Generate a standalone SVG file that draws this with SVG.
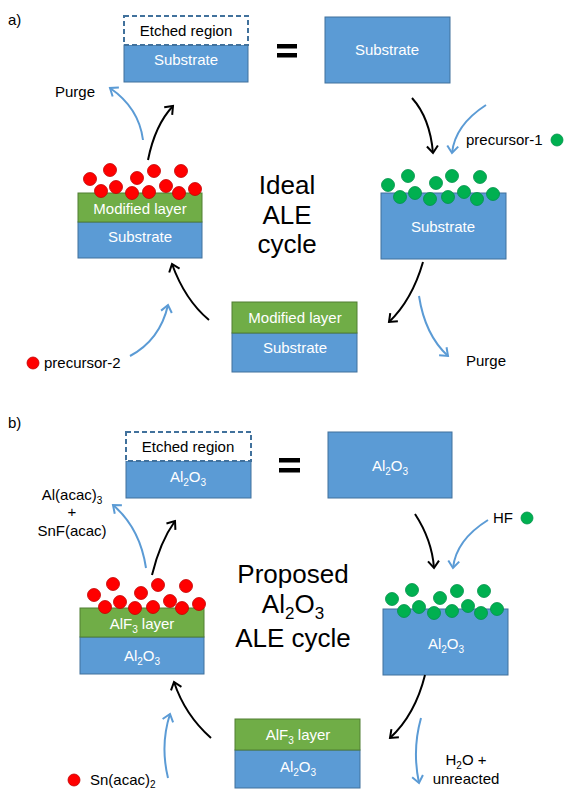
<svg xmlns="http://www.w3.org/2000/svg" width="564" height="789" viewBox="0 0 564 789">
<defs>
<marker id="ab" markerUnits="userSpaceOnUse" markerWidth="14" markerHeight="14" refX="9" refY="7" orient="auto">
<path d="M2,1.5 L9,7 L2,12.5" fill="none" stroke="#000" stroke-width="2"/>
</marker>
<marker id="au" markerUnits="userSpaceOnUse" markerWidth="14" markerHeight="14" refX="9" refY="7" orient="auto">
<path d="M2,1.5 L9,7 L2,12.5" fill="none" stroke="#5B9BD5" stroke-width="2"/>
</marker>
</defs>
<style>
text{font-family:"Liberation Sans",Arial,sans-serif;}
.lbl{font-size:15px;fill:#000;}
.wt{font-size:15px;fill:#fff;text-anchor:middle;}
.bk{font-size:15px;fill:#000;text-anchor:middle;}
.big{font-size:26px;fill:#000;text-anchor:middle;}
.sub{font-size:10px;}
.bsub{font-size:17px;}
.blue{fill:#5B9BD5;stroke:#41719C;stroke-width:1;}
.green{fill:#70AD47;stroke:#507E32;stroke-width:1;}
.etch{fill:#fff;stroke:#41719C;stroke-width:2;stroke-dasharray:5,3;}
.rd{fill:#FF0000;stroke:#C00000;stroke-width:0.8;}
.gd{fill:#00B050;stroke:#00904A;stroke-width:0.8;}
.eq{fill:#000;}
.cb{fill:none;stroke:#000;stroke-width:2;marker-end:url(#ab);}
.cu{fill:none;stroke:#5B9BD5;stroke-width:2;marker-end:url(#au);}
</style>
<rect width="564" height="789" fill="#fff"/>

<!-- Panel a -->
<text x="8" y="25" class="lbl" font-size="16">a)</text>
<g id="a-etched">
<rect x="124" y="45" width="124" height="37" class="blue"/>
<rect x="124" y="16" width="124" height="29" class="etch"/>
<text x="186" y="36" class="bk">Etched region</text>
<text x="186" y="65" class="wt">Substrate</text>
</g>
<g id="a-eq"><rect x="277" y="44" width="20" height="4.5" class="eq"/><rect x="277" y="53" width="20" height="4.5" class="eq"/></g>
<g id="a-substrate">
<rect x="325" y="17" width="125" height="66" class="blue"/>
<text x="387" y="55" class="wt">Substrate</text>
</g>
<g id="a-left">
<rect x="78" y="222" width="124" height="36" class="blue"/>
<rect x="78" y="193" width="124" height="29" class="green"/>
<text x="140" y="214" class="wt">Modified layer</text>
<text x="140" y="242" class="wt">Substrate</text>
<circle cx="90" cy="179" r="6.5" class="rd"/><circle cx="110" cy="170" r="6.5" class="rd"/>
<circle cx="101" cy="191" r="6.5" class="rd"/><circle cx="116" cy="187" r="6.5" class="rd"/>
<circle cx="137" cy="178" r="6.5" class="rd"/><circle cx="132" cy="193" r="6.5" class="rd"/>
<circle cx="154" cy="171" r="6.5" class="rd"/><circle cx="149" cy="192" r="6.5" class="rd"/>
<circle cx="166" cy="186" r="6.5" class="rd"/><circle cx="181" cy="171" r="6.5" class="rd"/>
<circle cx="179" cy="193" r="6.5" class="rd"/><circle cx="195" cy="189" r="6.5" class="rd"/>
</g>
<g id="a-title">
<text x="287" y="194" class="big">Ideal</text>
<text x="287" y="224" class="big">ALE</text>
<text x="287" y="253" class="big">cycle</text>
</g>
<g id="a-right">
<rect x="381" y="193" width="125" height="66" class="blue"/>
<text x="443" y="232" class="wt">Substrate</text>
<circle cx="388" cy="185" r="6.5" class="gd"/><circle cx="408" cy="176" r="6.5" class="gd"/>
<circle cx="400" cy="197" r="6.5" class="gd"/><circle cx="415" cy="193" r="6.5" class="gd"/>
<circle cx="436" cy="183" r="6.5" class="gd"/><circle cx="430" cy="199" r="6.5" class="gd"/>
<circle cx="452" cy="176" r="6.5" class="gd"/><circle cx="448" cy="197" r="6.5" class="gd"/>
<circle cx="464" cy="192" r="6.5" class="gd"/><circle cx="480" cy="177" r="6.5" class="gd"/>
<circle cx="477" cy="199" r="6.5" class="gd"/><circle cx="493" cy="194" r="6.5" class="gd"/>
</g>
<g id="a-bottom">
<rect x="232" y="333" width="125" height="39" class="blue"/>
<rect x="232" y="302" width="125" height="31" class="green"/>
<text x="295" y="323" class="wt">Modified layer</text>
<text x="295" y="353" class="wt">Substrate</text>
</g>
<g id="a-labels">
<text x="55" y="97" class="lbl">Purge</text>
<text x="466" y="145" class="lbl">precursor-1</text>
<circle cx="557" cy="140" r="6" class="gd"/>
<circle cx="33" cy="363" r="6" class="rd"/>
<text x="44" y="368" class="lbl">precursor-2</text>
<text x="466" y="366" class="lbl">Purge</text>
</g>

<!-- Panel b -->
<text x="8" y="428" class="lbl" font-size="16">b)</text>
<g id="b-etched">
<rect x="126" y="461" width="125" height="37" class="blue"/>
<rect x="126" y="432" width="125" height="29" class="etch"/>
<text x="188" y="452" class="bk">Etched region</text>
<text x="188" y="482" class="wt">Al<tspan class="sub" dy="4">2</tspan><tspan dy="-4">O</tspan><tspan class="sub" dy="4">3</tspan></text>
</g>
<g id="b-eq"><rect x="279" y="458" width="21" height="4.5" class="eq"/><rect x="279" y="468" width="21" height="4.5" class="eq"/></g>
<g id="b-al2o3">
<rect x="328" y="432" width="124" height="66" class="blue"/>
<text x="390" y="471" class="wt">Al<tspan class="sub" dy="4">2</tspan><tspan dy="-4">O</tspan><tspan class="sub" dy="4">3</tspan></text>
</g>
<g id="b-left">
<rect x="80" y="637" width="124" height="37" class="blue"/>
<rect x="80" y="608" width="124" height="29" class="green"/>
<text x="142" y="629" class="wt">AlF<tspan class="sub" dy="4">3</tspan><tspan dy="-4"> layer</tspan></text>
<text x="142" y="661" class="wt">Al<tspan class="sub" dy="4">2</tspan><tspan dy="-4">O</tspan><tspan class="sub" dy="4">3</tspan></text>
<circle cx="94" cy="595" r="6.5" class="rd"/><circle cx="113" cy="584" r="6.5" class="rd"/>
<circle cx="105" cy="607" r="6.5" class="rd"/><circle cx="120" cy="602" r="6.5" class="rd"/>
<circle cx="141" cy="593" r="6.5" class="rd"/><circle cx="135" cy="608" r="6.5" class="rd"/>
<circle cx="158" cy="585" r="6.5" class="rd"/><circle cx="153" cy="607" r="6.5" class="rd"/>
<circle cx="170" cy="601" r="6.5" class="rd"/><circle cx="186" cy="586" r="6.5" class="rd"/>
<circle cx="182" cy="608" r="6.5" class="rd"/><circle cx="199" cy="604" r="6.5" class="rd"/>
</g>
<g id="b-title">
<text x="293" y="583" class="big">Proposed</text>
<text x="293" y="613" class="big">Al<tspan class="bsub" dy="6">2</tspan><tspan dy="-6">O</tspan><tspan class="bsub" dy="6">3</tspan></text>
<text x="293" y="647" class="big">ALE cycle</text>
</g>
<g id="b-right">
<rect x="383" y="609" width="125" height="66" class="blue"/>
<text x="446" y="649" class="wt">Al<tspan class="sub" dy="4">2</tspan><tspan dy="-4">O</tspan><tspan class="sub" dy="4">3</tspan></text>
<circle cx="392" cy="599" r="6.5" class="gd"/><circle cx="412" cy="590" r="6.5" class="gd"/>
<circle cx="404" cy="611" r="6.5" class="gd"/><circle cx="419" cy="607" r="6.5" class="gd"/>
<circle cx="440" cy="598" r="6.5" class="gd"/><circle cx="434" cy="613" r="6.5" class="gd"/>
<circle cx="457" cy="591" r="6.5" class="gd"/><circle cx="452" cy="611" r="6.5" class="gd"/>
<circle cx="468" cy="606" r="6.5" class="gd"/><circle cx="484" cy="591" r="6.5" class="gd"/>
<circle cx="481" cy="613" r="6.5" class="gd"/><circle cx="497" cy="609" r="6.5" class="gd"/>
</g>
<g id="b-bottom">
<rect x="235" y="750" width="125" height="38" class="blue"/>
<rect x="235" y="719" width="125" height="31" class="green"/>
<text x="298" y="740" class="wt">AlF<tspan class="sub" dy="4">3</tspan><tspan dy="-4"> layer</tspan></text>
<text x="298" y="772" class="wt">Al<tspan class="sub" dy="4">2</tspan><tspan dy="-4">O</tspan><tspan class="sub" dy="4">3</tspan></text>
</g>
<g id="b-labels">
<text x="72" y="500" class="bk">Al(acac)<tspan class="sub" dy="4">3</tspan></text>
<text x="72" y="517" class="bk">+</text>
<text x="72" y="536" class="bk">SnF(acac)</text>
<text x="493" y="523" class="lbl">HF</text>
<circle cx="527" cy="518" r="6" class="gd"/>
<circle cx="74" cy="780" r="6" class="rd"/>
<text x="90" y="785" class="lbl">Sn(acac)<tspan class="sub" dy="3">2</tspan></text>
<text x="466" y="765" class="bk">H<tspan class="sub" dy="4">2</tspan><tspan dy="-4">O +</tspan></text>
<text x="466" y="784" class="bk">unreacted</text>
<text x="466" y="800" class="bk">HF</text>
</g>

<g id="connectors">
<path d="M143,140 Q139,108 110,88" class="cu"/>
<path d="M148,160 Q155,125 173,106" class="cb"/>
<path d="M412,98 Q430,118 433,153" class="cb"/>
<path d="M486,105 Q455,125 452,153" class="cu"/>
<path d="M209,320 Q185,300 172,264" class="cb"/>
<path d="M130,356 Q160,340 168,305" class="cu"/>
<path d="M423,262 Q412,300 389,322" class="cb"/>
<path d="M419,296 Q425,335 448,356" class="cu"/>
<path d="M146,568 Q140,528 113,505" class="cu"/>
<path d="M152,575 Q160,542 175,521" class="cb"/>
<path d="M415,514 Q432,540 434,568" class="cb"/>
<path d="M488,520 Q456,540 453,568" class="cu"/>
<path d="M211,738 Q185,715 174,682" class="cb"/>
<path d="M168,778 Q160,745 170,714" class="cu"/>
<path d="M425,675 Q415,715 390,738" class="cb"/>
<path d="M421,718 Q412,750 419,783" class="cu"/>
</g>
</svg>
